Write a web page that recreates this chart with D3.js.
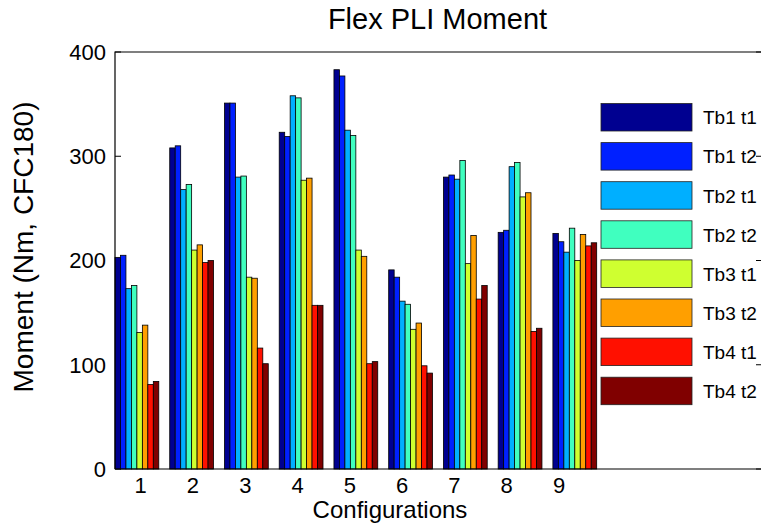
<!DOCTYPE html>
<html>
<head>
<meta charset="utf-8">
<script src="https://cdn.jsdelivr.net/npm/d3@7"></script>
<style>
  body { margin: 0; background: #fff; }
  .chart text { font-family: "Liberation Sans", Arial, sans-serif; fill: #000; }
</style>
</head>
<body>
<div class="chart"></div>
<script>
const configs = [1, 2, 3, 4, 5, 6, 7, 8, 9];
const seriesNames = ['Tb1 t1', 'Tb1 t2', 'Tb2 t1', 'Tb2 t2', 'Tb3 t1', 'Tb3 t2', 'Tb4 t1', 'Tb4 t2'];
const tb1t1 = [203, 308, 351, 323, 383, 191, 280, 227, 226];
const tb1t2 = [205, 310, 351, 319, 377, 184, 282, 229, 218];
const tb2t1 = [173, 268, 280, 358, 325, 161, 278, 290, 208];
const tb2t2 = [176, 273, 281, 356, 320, 158, 296, 294, 231];
const tb3t1 = [131, 210, 184, 277, 210, 134, 197, 261, 200];
const tb3t2 = [138, 215, 183, 279, 204, 140, 224, 265, 225];
const tb4t1 = [81, 198, 116, 157, 101, 99, 163, 132, 214];
const tb4t2 = [84, 200, 101, 157, 103, 92, 176, 135, 217];
const yTicks = [0, 100, 200, 300, 400];

(function() {
  'use strict';

  let series = [tb1t1, tb1t2, tb2t1, tb2t2, tb3t1, tb3t2, tb4t1, tb4t2],
      colors = ['#000090', '#0020ff', '#00afff', '#40ffbf', '#cfff30', '#ff9f00', '#ff1000', '#800000'],
      width = 761,
      height = 523,
      left = 115,
      right = 762,
      top = 52,
      bottom = 469,
      barW = 0.1,

      svg = d3.select('.chart')
        .append('svg')
        .attr('width', width)
        .attr('height', height),

      x = d3.scaleLinear().domain([0.6, 12.42]).range([left, right]),
      // tick labels sit slightly off the bar centres in the original export
      xLabel = d3.scaleLinear().domain([1, 9]).range([140.7, 559]),
      y = d3.scaleLinear().domain([0, 400]).range([bottom, top]);

  /**
   * Title and axis labels
   */
  svg.append('text')
    .attr('x', 437.5)
    .attr('y', 29)
    .attr('text-anchor', 'middle')
    .style('font-size', '29px')
    .text('Flex PLI Moment');

  svg.append('text')
    .attr('transform', 'translate(33,247) rotate(-90)')
    .attr('text-anchor', 'middle')
    .style('font-size', '28px')
    .text('Moment (Nm, CFC180)');

  svg.append('text')
    .attr('x', 390)
    .attr('y', 518)
    .attr('text-anchor', 'middle')
    .style('font-size', '24px')
    .text('Configurations');

  /**
   * Ticks (drawn under the bars)
   */
  let ticks = svg.append('g');
  yTicks.forEach((t) => {
    ticks.append('line')
      .attr('x1', left).attr('x2', left + 6)
      .attr('y1', y(t)).attr('y2', y(t))
      .attr('stroke', '#000');
    ticks.append('line')
      .attr('x1', right - 6).attr('x2', right)
      .attr('y1', y(t)).attr('y2', y(t))
      .attr('stroke', '#000');
    ticks.append('text')
      .attr('x', 106)
      .attr('y', y(t))
      .attr('dy', '0.36em')
      .attr('text-anchor', 'end')
      .style('font-size', '22px')
      .text(t);
  });

  configs.forEach((c) => {
    ticks.append('text')
      .attr('x', xLabel(c))
      .attr('y', 493)
      .attr('text-anchor', 'middle')
      .style('font-size', '22px')
      .text(c);
  });

  /**
   * Bars
   */
  series.forEach((vals, i) => {
    svg.append('g')
      .selectAll('rect')
      .data(vals)
      .enter()
      .append('rect')
        .attr('x', (d, j) => x(configs[j] + (i - 4) * barW))
        .attr('y', d => y(d))
        .attr('width', x(barW) - x(0))
        .attr('height', d => y(0) - y(d))
        .attr('fill', colors[i])
        .attr('stroke', '#000')
        .attr('stroke-width', 0.8);
  });

  /**
   * Axes box
   */
  svg.append('path')
    .attr('d', `M${left},${bottom}V${top}H${right}M${left},${bottom}H${right}`)
    .attr('fill', 'none')
    .attr('stroke', '#000')
    .attr('stroke-width', 1.2);

  /**
   * Legend
   */
  let legend = svg.append('g');
  seriesNames.forEach((name, i) => {
    let ly = 103.5 + i * 39.1;
    legend.append('rect')
      .attr('x', 601)
      .attr('y', ly)
      .attr('width', 91)
      .attr('height', 27.5)
      .attr('fill', colors[i])
      .attr('stroke', '#222')
      .attr('stroke-width', 0.8);
    legend.append('text')
      .attr('x', 703)
      .attr('y', ly + 14)
      .attr('dy', '0.36em')
      .style('font-size', '19px')
      .text(name);
  });

})();
</script>
</body>
</html>
